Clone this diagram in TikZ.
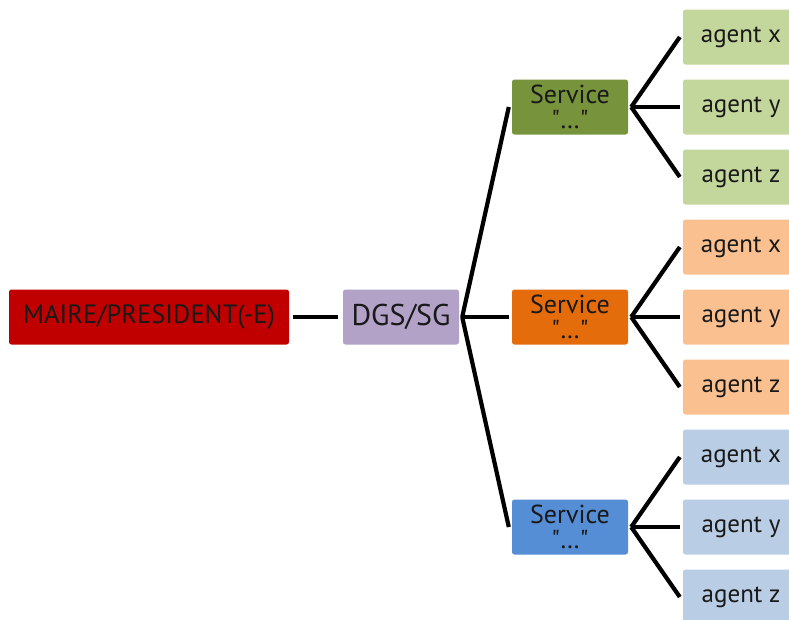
\documentclass[tikz,border=0pt]{standalone}
\usepackage{fontspec}
\setmainfont{PT Sans}
\definecolor{mred}{HTML}{C00000}
\definecolor{lav}{HTML}{B3A2C7}
\definecolor{gdark}{HTML}{77933C}
\definecolor{glight}{HTML}{C3D69B}
\definecolor{odark}{HTML}{E46C0A}
\definecolor{olight}{HTML}{FAC090}
\definecolor{bdark}{HTML}{558ED5}
\definecolor{blight}{HTML}{B9CDE5}
\begin{document}
\begin{tikzpicture}[x=1pt,y=-1pt,
  box/.style={rounded corners=2.5pt, minimum width=116pt, minimum height=55pt, inner sep=0pt, anchor=center, text=black!90},
  agentbox/.style={box, font=\fontsize{25}{28}\selectfont},
  svcbox/.style={box, align=center, font=\fontsize{26}{28}\selectfont},
  conn/.style={line width=4.2pt, black}]
\useasboundingbox (0,0) rectangle (789,619);
\clip (0,0) rectangle (789,619);
\node[box, fill=mred, minimum width=280pt, font=\fontsize{26.5}{28}\selectfont] (maire) at (149,317) {MAIRE/PRESIDENT(-E)};
\node[box, fill=lav, font=\fontsize{30}{30}\selectfont] (dgs) at (401,317) {DGS/SG};
\node[svcbox, fill=gdark] (s1) at (570,107) {Service\\[-3pt]\textquotedbl\ldots\textquotedbl};
\node[svcbox, fill=odark] (s2) at (570,317) {Service\\[-3pt]\textquotedbl\ldots\textquotedbl};
\node[svcbox, fill=bdark] (s3) at (570,527) {Service\\[-3pt]\textquotedbl\ldots\textquotedbl};
\node[agentbox, fill=glight] (a1) at (741,37) {agent x};
\node[agentbox, fill=glight] (a2) at (741,107) {agent y};
\node[agentbox, fill=glight] (a3) at (741,177) {agent z};
\node[agentbox, fill=olight] (a4) at (741,247) {agent x};
\node[agentbox, fill=olight] (a5) at (741,317) {agent y};
\node[agentbox, fill=olight] (a6) at (741,387) {agent z};
\node[agentbox, fill=blight] (a7) at (741,457) {agent x};
\node[agentbox, fill=blight] (a8) at (741,527) {agent y};
\node[agentbox, fill=blight] (a9) at (741,597) {agent z};
\draw[conn] ([xshift=4pt]maire.east) -- ([xshift=-5pt]dgs.west);
\foreach \s in {s1,s2,s3}
  \draw[conn] ([xshift=3pt]dgs.east) -- ([xshift=-3pt]\s.west);
\foreach \a in {a1,a2,a3}
  \draw[conn] ([xshift=3pt]s1.east) -- ([xshift=-3pt]\a.west);
\foreach \a in {a4,a5,a6}
  \draw[conn] ([xshift=3pt]s2.east) -- ([xshift=-3pt]\a.west);
\foreach \a in {a7,a8,a9}
  \draw[conn] ([xshift=3pt]s3.east) -- ([xshift=-3pt]\a.west);
\end{tikzpicture}
\end{document}
